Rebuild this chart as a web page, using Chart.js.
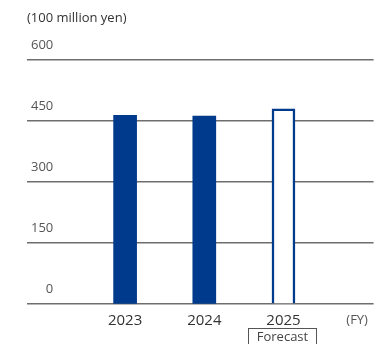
<!DOCTYPE html>
<html>
<head>
<meta charset="utf-8">
<script src="https://cdn.jsdelivr.net/npm/chart.js@4"></script>
<style>
  html, body { margin: 0; padding: 0; background: #fff; }
  #wrap { position: relative; width: 376px; height: 344px; }
</style>
</head>
<body>
<div id="wrap"><canvas id="myChart"></canvas></div>
<script>
// Fiscal years and amounts (100 million yen)
const years = ['2023', '2024', '2025'];
const amounts = [464, 462, 480];
const isForecast = [false, false, true];
const yTicks = [0, 150, 300, 450, 600];
const unitLabel = '(100 million yen)';
const fyLabel = '(FY)';
const forecastLabel = 'Forecast';

const BLUE = 'rgb(0, 58, 140)';
const FONT = "'Open Sans', 'Noto Sans', sans-serif";

// positions on the x scale: 1..n for the years, the FY marker just after
const xTickValues = years.map((y, i) => i + 1).concat([years.length + 0.93]);
const xTickLabels = years.concat([fyLabel]);

// unit caption and the forecast box under the last year
const extras = {
    id: 'extras',
    afterDraw(chart) {
        const ctx = chart.ctx;
        const x = chart.scales.x;
        ctx.save();
        ctx.fillStyle = '#333';
        ctx.font = '13px ' + FONT;
        ctx.textAlign = 'left';
        ctx.textBaseline = 'middle';
        ctx.fillText(unitLabel, 27, 18);

        const cx = x.getPixelForValue(isForecast.indexOf(true) + 1) - 1;
        ctx.strokeStyle = '#555';
        ctx.lineWidth = 1;
        ctx.strokeRect(Math.round(cx - 34) + 0.5, 328.5, 68, 24);
        ctx.fillStyle = '#444';
        ctx.font = '13px ' + FONT;
        ctx.textAlign = 'center';
        ctx.fillText(forecastLabel, cx, 337);
        ctx.restore();
    }
};

const data = {
    datasets: [{
        data: amounts.map((v, i) => ({ x: i + 1, y: v })),
        backgroundColor: isForecast.map(f => f ? '#fff' : BLUE),
        borderColor: BLUE,
        borderWidth: isForecast.map(f => f ? 2.5 : 0),
        barThickness: 23,
    }]
};

const config = {
    type: 'bar',
    data: data,
    options: {
        responsive: true,
        maintainAspectRatio: false,
        animation: false,
        layout: { padding: { top: 60, left: 27, right: 1, bottom: 6 } },
        plugins: {
            legend: { display: false },
            tooltip: { enabled: false },
        },
        scales: {
            x: {
                type: 'linear',
                offset: false,
                min: -0.239,
                max: 4.138,
                grid: { display: false, drawTicks: false, offset: false },
                border: { display: false },
                afterBuildTicks: axis => {
                    axis.ticks = xTickValues.map(v => ({ value: v }));
                },
                ticks: {
                    padding: 8,
                    color: ctx => ctx.index === years.length ? '#555' : '#333',
                    font: ctx => ({ family: FONT, size: ctx.index === years.length ? 13 : 15 }),
                    callback: (v, i) => xTickLabels[i],
                    maxRotation: 0,
                    autoSkip: false,
                }
            },
            y: {
                min: yTicks[0],
                max: yTicks[yTicks.length - 1],
                afterBuildTicks: axis => {
                    axis.ticks = yTicks.map(v => ({ value: v }));
                },
                afterFit: axis => { axis.width = 0; },
                grid: { color: '#6e6e6e', lineWidth: 1.4, drawTicks: false },
                border: { display: false },
                ticks: {
                    mirror: true,
                    crossAlign: 'far',
                    padding: 4,
                    labelOffset: -15,
                    color: '#555',
                    font: { family: FONT, size: 13 },
                }
            }
        }
    },
    plugins: [extras]
};

const myChart = new Chart(document.getElementById('myChart'), config);
</script>
</body>
</html>
